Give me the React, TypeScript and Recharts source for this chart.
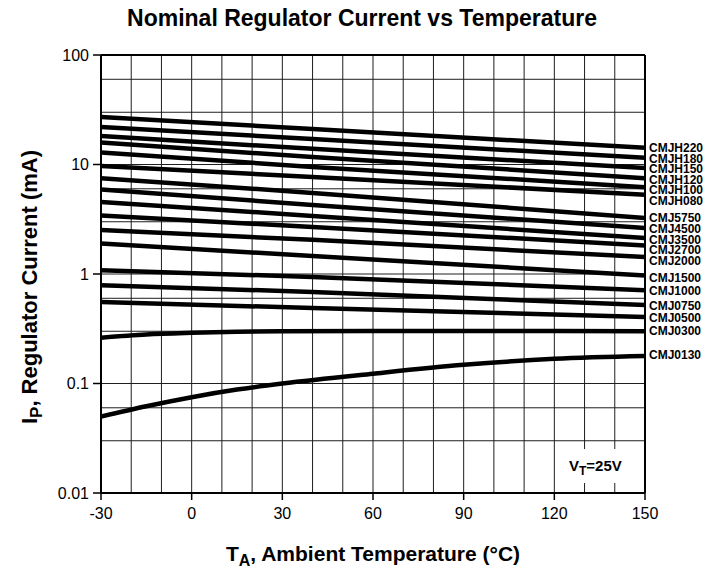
import React from 'react';
import { LineChart, Line, XAxis, YAxis, CartesianGrid, ReferenceDot, ReferenceLine } from 'recharts';

// Temperatures (°C) where values were read
const tempsStraight = [-30, 40, 150];
const tempsCurve = [-30, -15, 0, 15, 30, 60, 90, 120, 150];

// Regulator current (mA)
const cmjh220 = [27.2, 21.1, 14.2];
const cmjh180 = [22.0, 17.1, 11.5];
const cmjh150 = [18.2, 13.9, 9.3];
const cmjh120 = [15.9, 11.7, 7.5];
const cmjh100 = [12.9, 9.5, 6.2];
const cmjh080 = [9.7, 7.7, 5.3];
const cmj5750 = [7.5, 5.5, 3.25];
const cmj4500 = [5.9, 4.27, 2.63];
const cmj3500 = [4.55, 3.39, 2.13];
const cmj2700 = [3.42, 2.69, 1.82];
const cmj2000 = [2.52, 2.05, 1.43];
const cmj1500 = [1.9, 1.46, 0.97];
const cmj1000 = [1.08, 0.94, 0.71];
const cmj0750 = [0.79, 0.685, 0.52];
const cmj0500 = [0.555, 0.489, 0.405];
const cmj0300 = [0.262, 0.28, 0.29, 0.297, 0.3, 0.302, 0.302, 0.301, 0.3];
const cmj0130 = [0.05, 0.062, 0.075, 0.088, 0.1, 0.123, 0.148, 0.168, 0.178];

const seriesNames = [
  'CMJH220', 'CMJH180', 'CMJH150', 'CMJH120', 'CMJH100', 'CMJH080',
  'CMJ5750', 'CMJ4500', 'CMJ3500', 'CMJ2700', 'CMJ2000',
  'CMJ1500', 'CMJ1000', 'CMJ0750', 'CMJ0500', 'CMJ0300', 'CMJ0130',
];
const seriesValues = [
  cmjh220, cmjh180, cmjh150, cmjh120, cmjh100, cmjh080,
  cmj5750, cmj4500, cmj3500, cmj2700, cmj2000,
  cmj1500, cmj1000, cmj0750, cmj0500, cmj0300, cmj0130,
];
// label anchor values (mA) at the right edge
const labelValues = [
  14.2, 11.35, 9.1, 7.3, 5.85, 4.69,
  3.25, 2.58, 2.07, 1.66, 1.33,
  0.92, 0.706, 0.516, 0.401, 0.301, 0.182,
];

const xTicks = [-30, 0, 30, 60, 90, 120, 150];
const xGrid = [-30, -20, -10, 0, 10, 20, 30, 40, 50, 60, 70, 80, 90, 100, 110, 120, 130, 140, 150];
const yTicks = [0.01, 0.1, 1, 10, 100];
const yTickLabels = ['0.01', '0.1', '1', '10', '100'];
const decades = [0.01, 0.1, 1, 10];
const minorMultipliers = [1, 2, 3, 4, 5, 6, 7, 8, 9];
const yGrid = [...decades.flatMap((d) => minorMultipliers.map((m) => +(d * m).toPrecision(3))), 100];

const FONT = '"Liberation Sans", Arial, Helvetica, sans-serif';

export default function App() {
  return (
    <div style={{ position: 'absolute', left: 0, top: 0, width: 704, height: 575, fontFamily: FONT }}>
      <LineChart width={704} height={575} margin={{ top: 55, right: 59, bottom: 52, left: 41 }}>
        <CartesianGrid
          horizontalValues={yGrid}
          verticalValues={xGrid}
          stroke="#1e1e1e"
          strokeWidth={1}
        />
        <XAxis
          type="number"
          dataKey="t"
          domain={[-30, 150]}
          ticks={xTicks}
          allowDataOverflow
          height={30}
          tickSize={7}
          tickMargin={8}
          axisLine={{ stroke: '#000', strokeWidth: 2 }}
          tickLine={{ stroke: '#000', strokeWidth: 1.5 }}
          tick={{ fill: '#000', fontSize: 16, fontFamily: FONT }}
        />
        <YAxis
          type="number"
          dataKey="v"
          scale="log"
          domain={[0.01, 100]}
          ticks={yTicks}
          allowDataOverflow
          width={60}
          tickSize={8}
          tickMargin={4}
          tickFormatter={(v: number) => yTickLabels[yTicks.indexOf(v)] ?? String(v)}
          axisLine={{ stroke: '#000', strokeWidth: 2 }}
          tickLine={{ stroke: '#000', strokeWidth: 1.5 }}
          tick={{ fill: '#000', fontSize: 16, fontFamily: FONT }}
        />
        <ReferenceLine y={100} stroke="#000" strokeWidth={2} />
        <ReferenceLine x={150} stroke="#000" strokeWidth={2} />
        {seriesValues.map((vals, i) => {
          const temps = vals.length === tempsCurve.length ? tempsCurve : tempsStraight;
          const data = vals.map((v, j) => ({ t: temps[j], v }));
          return (
            <Line
              key={seriesNames[i]}
              data={data}
              dataKey="v"
              type={vals.length === tempsCurve.length ? 'monotone' : 'linear'}
              stroke="#000"
              strokeWidth={4.5}
              dot={false}
              activeDot={false}
              isAnimationActive={false}
            />
          );
        })}
        {seriesNames.map((name, i) => (
          <ReferenceDot
            key={'lbl' + name}
            x={150}
            y={labelValues[i]}
            r={0}
            stroke="none"
            fill="none"
            ifOverflow="visible"
            label={{
              value: name,
              position: 'right',
              offset: 4,
              fill: '#000',
              fontSize: 12,
              fontWeight: 'bold',
              fontFamily: FONT,
            }}
          />
        ))}
      </LineChart>
      <svg
        width={704}
        height={575}
        style={{ position: 'absolute', left: 0, top: 0, pointerEvents: 'none' }}
        fontFamily={FONT}
      >
        <text x={362} y={26} textAnchor="middle" fontSize={23} fontWeight="bold" fill="#000">
          Nominal Regulator Current vs Temperature
        </text>
        <text x={373} y={561} textAnchor="middle" fontSize={21} fontWeight="bold" fill="#000">
          T<tspan fontSize={16} dy={5}>A</tspan>
          <tspan dy={-5}>, Ambient Temperature (°C)</tspan>
        </text>
        <text
          transform="translate(37, 287) rotate(-90)"
          textAnchor="middle"
          fontSize={22}
          fontWeight="bold"
          fill="#000"
        >
          I<tspan fontSize={17} dy={5}>P</tspan>
          <tspan dy={-5}>, Regulator Current (mA)</tspan>
        </text>
        <rect x={563} y={449} width={70} height={34} fill="#fff" />
        <text x={569} y={471} fontSize={15} fontWeight="bold" fill="#000">
          V<tspan fontSize={12} dy={4}>T</tspan>
          <tspan dy={-4}>=25V</tspan>
        </text>
      </svg>
    </div>
  );
}
